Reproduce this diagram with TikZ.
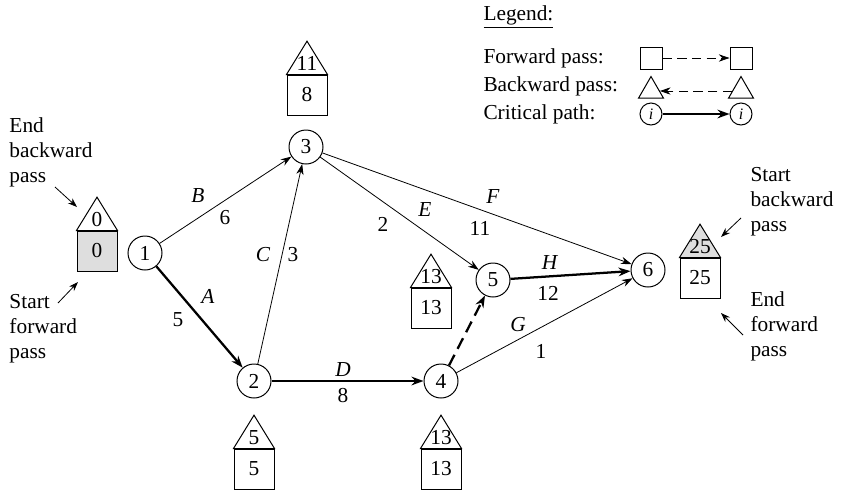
\documentclass[tikz,border=0pt]{standalone}
\usepackage{fontspec}
\setmainfont{Liberation Serif}
\usetikzlibrary{arrows.meta,shapes.geometric}

\tikzset{every picture/.style={line width=0.75pt}}
\tikzset{
  txt/.style={inner sep=0pt,font=\fontsize{16}{18.75}\selectfont},
  note/.style={txt,align=left,anchor=west},
  event/.style={txt,circle,draw,minimum size=25.5pt},
  sqbox/.style={txt,draw,minimum size=30pt},
  tribox/.style={txt,draw,regular polygon,regular polygon sides=3,minimum size=34.6pt},
  act/.style={-{Stealth[length=8pt,width=5.5pt]},line width=0.6pt},
  crit/.style={act,line width=1.7pt,-{Stealth[length=9pt,width=6.5pt]}},
  pointer/.style={-{Stealth[length=7pt,width=5pt]},line width=0.6pt},
}
\definecolor{shade}{RGB}{222,222,222}

% square with triangle on top: name, position, triangle text, square text, triangle fill, square fill
\newcommand{\timebox}[6]{%
  \node[sqbox,fill=#6] (#1) at (#2) {#4};
  \draw[fill=#5] (#1.north west) -- ([yshift=-25pt]#1.north) -- (#1.north east) -- cycle;
  \node[txt] (#1t) at ([yshift=-8pt]#1.north) {#3};
}

\begin{document}
\begin{tikzpicture}[x=0.75pt,y=0.75pt,yscale=-1,xscale=1]
\useasboundingbox (0,0) rectangle (843,490);

% Events
\node[event] (n1) at (145,253) {1};
\node[event] (n2) at (254,381) {2};
\node[event] (n3) at (306,147) {3};
\node[event] (n4) at (441,381) {4};
\node[event] (n5) at (493,280) {5};
\node[event] (n6) at (648,270) {6};

% Activities
\draw[crit] (n1) -- (n2);
\draw[act] (n1) -- (n3);
\draw[act] (n2) -- (n3);
\draw[crit] (n2) -- (n4);
\draw[act] (n3) -- (n5);
\draw[act] (n3) -- (n6);
\draw[act] (n4) -- (n6);
\draw[crit] (n5) -- (n6);
\draw[crit,dash pattern=on 9pt off 5pt] (n4) -- (n5);

% Text Node
\node[txt] (lA) at (208,296) {\textit{A}};
\node[txt] (wA) at (178,320) {5};
\node[txt] (lB) at (198,196) {\textit{B}};
\node[txt] (wB) at (225,218) {6};
\node[txt] (lC) at (263,255) {\textit{C}};
\node[txt] (wC) at (293,255) {3};
\node[txt] (lD) at (343,370) {\textit{D}};
\node[txt] (wD) at (343,396) {8};
\node[txt] (lE) at (425,210) {\textit{E}};
\node[txt] (wE) at (383,224) {2};
\node[txt] (lF) at (493,197) {\textit{F}};
\node[txt] (wF) at (480,228) {11};
\node[txt] (lG) at (518,325) {\textit{G}};
\node[txt] (wG) at (541,351) {1};
\node[txt] (lH) at (550,263) {\textit{H}};
\node[txt] (wH) at (548,293) {12};

% Time boxes
\timebox{b1}{97,251}{0}{0}{white}{shade}
\timebox{b2}{254,469}{5}{5}{white}{white}
\timebox{b3}{307,95}{11}{8}{white}{white}
\timebox{b4}{441,469}{13}{13}{white}{white}
\timebox{b5}{431,308}{13}{13}{white}{white}
\timebox{b6}{700,278}{25}{25}{shade}{white}

% Notes
\node[note] (endbw) at (9,152) {End\\backward\\pass};
\node[note] (startfw) at (9,329) {Start\\forward\\pass};
\node[note] (startbw) at (750,202) {Start\\backward\\pass};
\node[note] (endfw) at (750,326) {End\\forward\\pass};
\coordinate (p1) at (55,187);
\coordinate (q1) at (77,207);
\coordinate (p2) at (58,303);
\coordinate (q2) at (78,282);
\coordinate (p3) at (741,218);
\coordinate (q3) at (721,237);
\coordinate (p4) at (743,335);
\coordinate (q4) at (721,313);
\draw[pointer] (p1) -- (q1);
\draw[pointer] (p2) -- (q2);
\draw[pointer] (p3) -- (q3);
\draw[pointer] (p4) -- (q4);

% Legend
\node[note] (leg) at (483,17) {\underline{Legend:}};
\node[note] (legF) at (483,58) {Forward pass:};
\node[note] (legB) at (483,86) {Backward pass:};
\node[note] (legC) at (483,114) {Critical path:};
\node[txt,draw,minimum size=16.5pt] (fs1) at (651,58) {};
\node[txt,draw,minimum size=16.5pt] (fs2) at (741,58) {};
\draw[act,dash pattern=on 7pt off 4pt] (fs1) -- (fs2);
\node[tribox,minimum size=21.7pt] (bt1) at (651,91) {};
\node[tribox,minimum size=21.7pt] (bt2) at (741,91) {};
\draw[act,dash pattern=on 7pt off 4pt] (bt2) -- (bt1);
\node[event,minimum size=16.5pt,font=\fontsize{12}{14}\selectfont] (ci1) at (651,114) {\textit{i}};
\node[event,minimum size=16.5pt,font=\fontsize{12}{14}\selectfont] (ci2) at (741,114) {\textit{i}};
\draw[crit] (ci1) -- (ci2);

\end{tikzpicture}
\end{document}
